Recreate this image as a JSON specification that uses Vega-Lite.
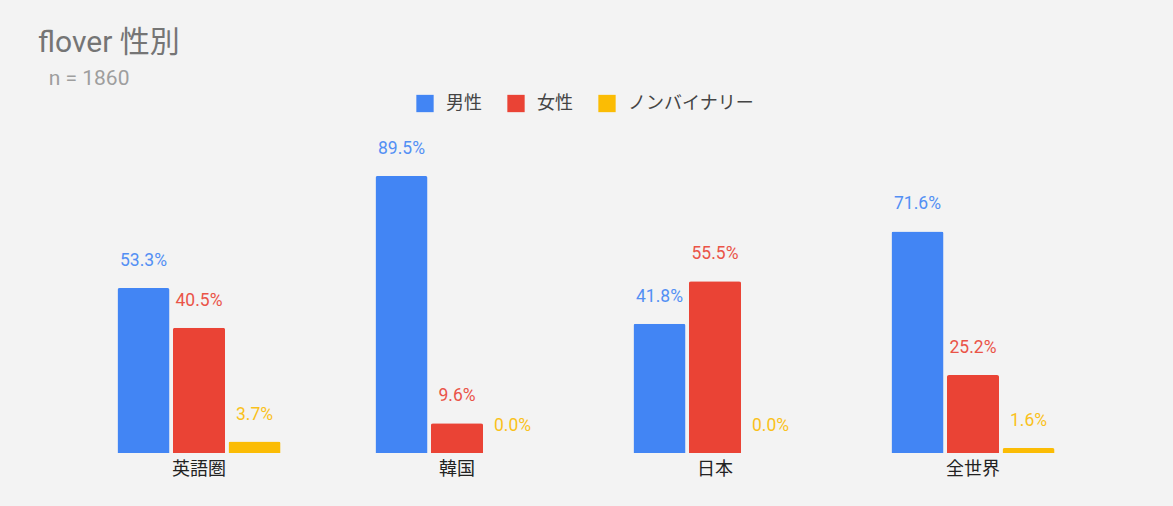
{
  "$schema": "https://vega.github.io/schema/vega-lite/v6.json",
  "autosize": {"type": "none"},
  "width": 1032,
  "height": 309.5,
  "padding": {"left": 70, "top": 143.5, "right": 71, "bottom": 53},
  "background": "#f3f3f3",
  "title": {
    "text": "flover 性別",
    "subtitle": "\u200b\u2002n = 1860",
    "anchor": "start",
    "frame": "group",
    "dx": -32,
    "offset": 6,
    "fontSize": 30,
    "fontWeight": "normal",
    "color": "#757575",
    "subtitleFontSize": 21,
    "subtitleColor": "#9e9e9e",
    "subtitlePadding": 10
  },
  "data": {
    "values": [
      {"region": "英語圏", "gender": "男性", "share": 0.533},
      {"region": "英語圏", "gender": "女性", "share": 0.405},
      {"region": "英語圏", "gender": "ノンバイナリー", "share": 0.037},
      {"region": "韓国", "gender": "男性", "share": 0.895},
      {"region": "韓国", "gender": "女性", "share": 0.096},
      {"region": "韓国", "gender": "ノンバイナリー", "share": 0.0},
      {"region": "日本", "gender": "男性", "share": 0.418},
      {"region": "日本", "gender": "女性", "share": 0.555},
      {"region": "日本", "gender": "ノンバイナリー", "share": 0.0},
      {"region": "全世界", "gender": "男性", "share": 0.716},
      {"region": "全世界", "gender": "女性", "share": 0.252},
      {"region": "全世界", "gender": "ノンバイナリー", "share": 0.016}
    ]
  },
  "encoding": {
    "x": {
      "field": "region",
      "type": "nominal",
      "sort": ["英語圏", "韓国", "日本", "全世界"],
      "scale": {"paddingInner": 0.368, "paddingOuter": 0.184},
      "axis": {
        "title": null,
        "labelAngle": 0,
        "ticks": false,
        "domain": false,
        "labelFontSize": 18,
        "labelColor": "#222222",
        "labelPadding": 7
      }
    },
    "xOffset": {
      "field": "gender",
      "type": "nominal",
      "sort": ["男性", "女性", "ノンバイナリー"],
      "scale": {"paddingInner": 0.063, "paddingOuter": 0}
    },
    "y": {
      "field": "share",
      "type": "quantitative",
      "scale": {"domain": [0, 1]},
      "axis": null
    },
    "color": {
      "field": "gender",
      "type": "nominal",
      "sort": ["男性", "女性", "ノンバイナリー"],
      "scale": {
        "domain": ["男性", "女性", "ノンバイナリー"],
        "range": ["#4285f4", "#ea4335", "#fbbc04"]
      },
      "legend": {
        "title": null,
        "orient": "none",
        "direction": "horizontal",
        "legendX": 346,
        "legendY": -49,
        "symbolType": "square",
        "symbolSize": 300,
        "symbolStrokeWidth": 0,
        "symbolOpacity": 1,
        "labelFontSize": 18,
        "labelColor": "#444444",
        "labelOffset": 12,
        "columnPadding": 25
      }
    }
  },
  "layer": [
    {
      "mark": {"type": "bar", "cornerRadiusTopLeft": 2, "cornerRadiusTopRight": 2}
    },
    {
      "mark": {"type": "text", "baseline": "middle", "dy": -27, "fontSize": 17.5, "opacity": 0.9},
      "encoding": {
        "text": {"field": "share", "type": "quantitative", "format": ".1%"}
      }
    }
  ],
  "config": {
    "font": "Roboto, Noto Sans CJK JP",
    "view": {"stroke": null}
  }
}
